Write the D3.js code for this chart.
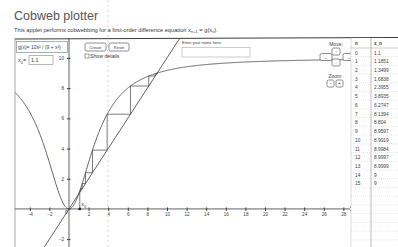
<!DOCTYPE html>
<html><head><meta charset="utf-8">
<script src="https://cdn.jsdelivr.net/npm/d3@7"></script>
<style>body{margin:0;background:#fff}svg{display:block;font-family:"Liberation Sans",Arial,sans-serif}</style>
</head><body>
<svg id="c" width="398" height="247"></svg>
<script>
const xTicks = [-4,-2,2,4,6,8,10,12,14,16,18,20,22,24,26,28];
const yTicks = [10,8,6,4,2,-2];
const nIndex = [0,1,2,3,4,5,6,7,8,9,10,11,12,13,14,15];
const xnValues = ["1.1","1.1851","1.3499","1.6838","2.3955","3.8935","6.2747","8.1394","8.804","8.9597","8.9919","8.9984","8.9997","8.9999","9","9"];
const x0 = 1.1;
const gFormula = "g(x)= 10x² / (9 + x²)";

const svg = d3.select("#c");
const ink = "#3a3a3a";
const x = d3.scaleLinear().domain([-5.51, 28.88]).range([15, 352]);
const y = d3.scaleLinear().domain([-2.52, 11.32]).range([247, 38]);
const g = v => 10*v*v/(9+v*v);

// title
svg.append("text").attr("x",14).attr("y",20).attr("font-size",12.5).attr("fill","#555").attr("font-weight",300).text("Cobweb plotter");
const sub = svg.append("text").attr("x",14).attr("y",31.5).attr("font-size",5.7).attr("fill",ink);
sub.append("tspan").text("This applet performs cobwebbing for a first-order difference equation x");
sub.append("tspan").attr("font-size",4).attr("dy",1).text("n+1");
sub.append("tspan").attr("dy",-1).text(" = g(x");
sub.append("tspan").attr("font-size",4).attr("dy",1).text("n");
sub.append("tspan").attr("dy",-1).text(").");

// frame lines
svg.append("line").attr("x1",15).attr("x2",398).attr("y1",39).attr("y2",37.5).attr("stroke",ink).attr("stroke-width",1);
svg.append("line").attr("x1",15).attr("x2",15).attr("y1",38).attr("y2",247).attr("stroke","#888").attr("stroke-width",0.7);

const plot = svg.append("g");
svg.append("clipPath").attr("id","pc").append("rect").attr("x",15).attr("y",38).attr("width",337).attr("height",209);

// axes
const xa = d3.axisBottom(x).tickValues(xTicks).tickSize(2).tickSizeOuter(0).tickFormat(d3.format("d"));
const xg = plot.append("g").attr("transform",`translate(0,${y(0)})`).call(xa);
xg.select(".domain").remove();
xg.selectAll(".tick line").attr("stroke",ink).attr("y1",-1.5);
xg.selectAll(".tick text").attr("font-size",4.6).attr("fill",ink).attr("dy","0.5em");
plot.append("line").attr("x1",15).attr("x2",350).attr("y1",y(0)).attr("y2",y(0)).attr("stroke",ink).attr("stroke-width",0.8);
plot.append("path").attr("d",`M350,${y(0)-2}L354,${y(0)}L350,${y(0)+2}`).attr("fill","none").attr("stroke",ink).attr("stroke-width",0.8);

const ya = d3.axisLeft(y).tickValues(yTicks).tickSize(2).tickSizeOuter(0).tickFormat(d3.format("d"));
const yg = plot.append("g").attr("transform",`translate(${x(0)},0)`).call(ya);
yg.select(".domain").remove();
yg.selectAll(".tick line").attr("stroke",ink).attr("x1",1.5);
yg.selectAll(".tick text").attr("font-size",4.6).attr("fill",ink);
plot.append("line").attr("x1",x(0)).attr("x2",x(0)).attr("y1",38).attr("y2",247).attr("stroke",ink).attr("stroke-width",0.8);
plot.append("text").attr("x",x(0)-1.5).attr("y",y(0)+5).attr("text-anchor","end").attr("font-size",4.6).attr("fill",ink).text("0");

// scan artifact dotted line
svg.append("line").attr("x1",108).attr("x2",108).attr("y1",0).attr("y2",247).attr("stroke","#bbb").attr("stroke-width",0.6).attr("stroke-dasharray","2,3");

const cl = plot.append("g").attr("clip-path","url(#pc)");
// curve
const xs = d3.range(x.domain()[0], x.domain()[1]+0.05, 0.05);
cl.append("path").datum(xs).attr("d", d3.line().x(d=>x(d)).y(d=>y(g(d)))).attr("fill","none").attr("stroke",ink).attr("stroke-width",0.8);
// diagonal
cl.append("path").datum([-5.51, 12]).attr("d", d3.line().x(d=>x(d)).y(d=>y(d))).attr("fill","none").attr("stroke",ink).attr("stroke-width",0.8);

// cobweb
const seq = xnValues.map(Number);
const pts = [[seq[0],0]];
for (let i=0;i<seq.length-1;i++){ pts.push([seq[i],seq[i+1]]); pts.push([seq[i+1],seq[i+1]]); }
cl.append("path").datum(pts).attr("d", d3.line().x(d=>x(d[0])).y(d=>y(d[1]))).attr("fill","none").attr("stroke","#444").attr("stroke-width",0.7);
cl.append("circle").attr("cx",x(x0)).attr("cy",y(0)).attr("r",1.4).attr("fill","#222");
const lx = plot.append("text").attr("x",x(x0)+1.5).attr("y",y(0)-2.5).attr("font-size",5.5).attr("fill",ink);
lx.append("tspan").text("x");
lx.append("tspan").attr("font-size",4).attr("dy",1.5).text("0");

// left panel inputs
svg.append("rect").attr("x",16.5).attr("y",41.5).attr("width",51).attr("height",11).attr("fill","#fff").attr("stroke","#777").attr("stroke-width",0.6);
svg.append("text").attr("x",18).attr("y",49).attr("font-size",5).attr("fill",ink).text(gFormula);
const xt = svg.append("text").attr("x",18).attr("y",62).attr("font-size",5.5).attr("fill",ink);
xt.append("tspan").text("x");
xt.append("tspan").attr("font-size",4).attr("dy",1.5).text("0");
xt.append("tspan").attr("dy",-1.5).text("=");
svg.append("rect").attr("x",29).attr("y",55.5).attr("width",24).attr("height",9).attr("fill","#fff").attr("stroke","#888").attr("stroke-width",0.6);
svg.append("text").attr("x",31).attr("y",62).attr("font-size",5.5).attr("fill",ink).text(x0);

// buttons
function btn(bx,by,w,h,label,fs){
  svg.append("rect").attr("x",bx).attr("y",by).attr("width",w).attr("height",h).attr("rx",1.5).attr("fill","#fff").attr("stroke","#444").attr("stroke-width",0.6);
  svg.append("text").attr("x",bx+w/2).attr("y",by+h/2+1.5).attr("text-anchor","middle").attr("font-size",fs).attr("fill",ink).text(label);
}
btn(85,43,21,8,"Create",4);
btn(109,43,20,8,"Reset",4);
svg.append("rect").attr("x",85).attr("y",54).attr("width",4).attr("height",4).attr("fill","#fff").attr("stroke","#444").attr("stroke-width",0.5);
svg.append("text").attr("x",90).attr("y",58).attr("font-size",5.2).attr("fill",ink).text("Show details");

svg.append("text").attr("x",182).attr("y",44).attr("font-size",4).attr("fill",ink).text("Enter your name here:");
svg.append("rect").attr("x",182).attr("y",47.5).attr("width",68).attr("height",9.5).attr("fill","#fff").attr("stroke","#999").attr("stroke-width",0.5);

svg.append("text").attr("x",336).attr("y",46).attr("text-anchor","middle").attr("font-size",5).attr("fill",ink).text("Move:");
btn(332,48,8,7,"↑",4);
btn(320,53.5,12,7,"←",4);
btn(343,53.5,12,7,"→",4);
btn(332,59,8,7,"↓",4);
svg.append("text").attr("x",335.5).attr("y",78).attr("text-anchor","middle").attr("font-size",5).attr("fill",ink).text("Zoom:");
btn(327,80,7,7,"-",5);
btn(336,80,7,7,"+",5);

// table
const tb = svg.append("g");
tb.append("rect").attr("x",351).attr("y",38).attr("width",47).attr("height",209).attr("fill","#fff");
tb.append("line").attr("x1",371).attr("x2",371).attr("y1",38).attr("y2",247).attr("stroke","#777").attr("stroke-width",0.5);
tb.append("line").attr("x1",351).attr("x2",351).attr("y1",38).attr("y2",247).attr("stroke","#bbb").attr("stroke-width",0.5);
tb.append("text").attr("x",355).attr("y",45).attr("font-size",4.6).attr("font-weight","bold").attr("fill",ink).text("n");
tb.append("text").attr("x",374).attr("y",45).attr("font-size",4.6).attr("font-weight","bold").attr("fill",ink).text("x_n");
const rowY = i => 53 + i*8.73;
tb.append("line").attr("x1",351).attr("x2",398).attr("y1",48).attr("y2",48).attr("stroke","#999").attr("stroke-width",0.5);
d3.range(0,23).forEach(i=>{
  tb.append("line").attr("x1",351).attr("x2",398).attr("y1",rowY(i)+3.5).attr("y2",rowY(i)+3.5).attr("stroke","#ccc").attr("stroke-width",0.5).attr("stroke-dasharray","1,1");
});
nIndex.forEach((n,i)=>{
  tb.append("text").attr("x",355).attr("y",rowY(i)+1.5).attr("font-size",4.8).attr("fill",ink).text(n);
  tb.append("text").attr("x",374).attr("y",rowY(i)+1.5).attr("font-size",4.8).attr("fill",ink).text(xnValues[i]);
});
</script>
</body></html>
